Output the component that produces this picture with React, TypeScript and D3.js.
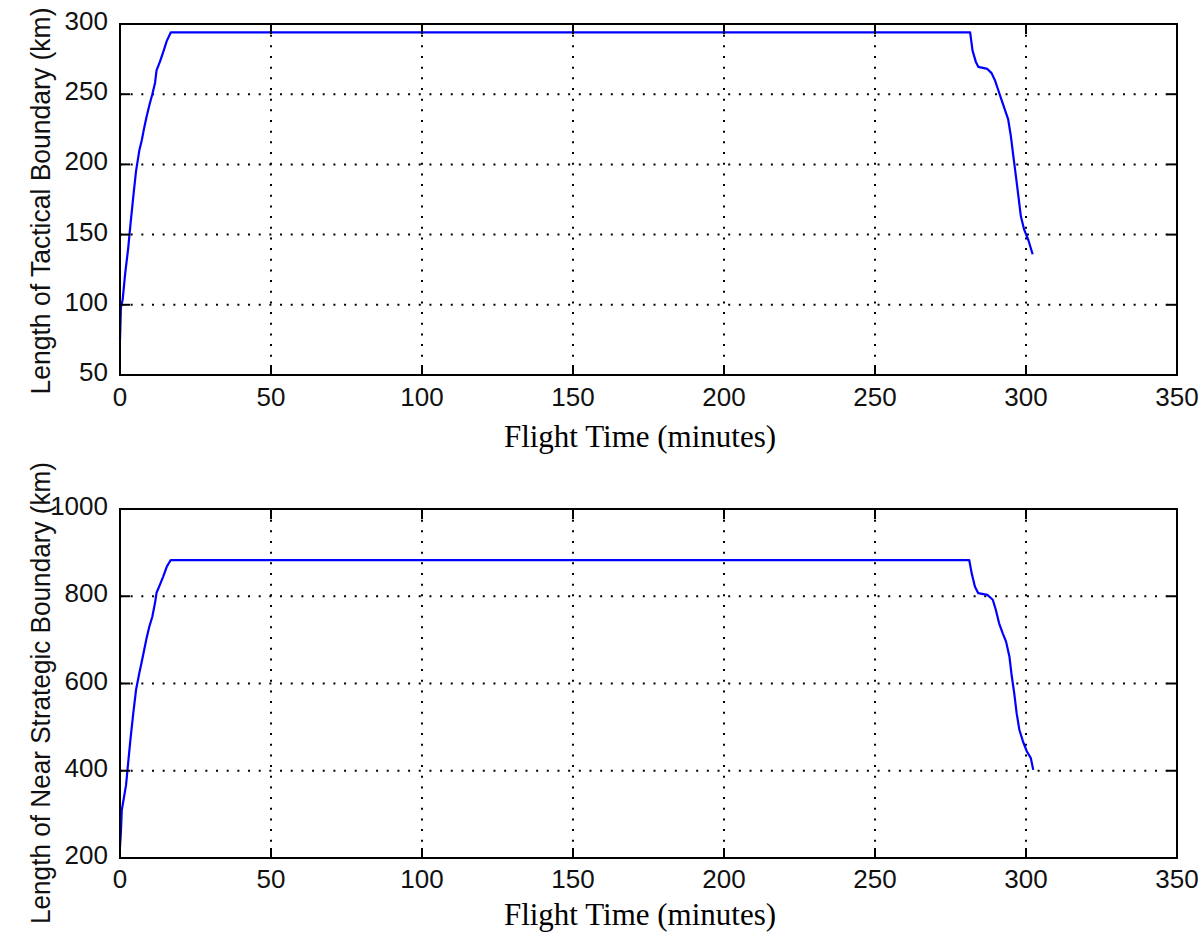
import React from "react";
import * as d3 from "d3";

const xTicks = [0, 50, 100, 150, 200, 250, 300, 350];
const tacticalYTicks = [50, 100, 150, 200, 250, 300];
const strategicYTicks = [200, 400, 600, 800, 1000];

const tacticalTime = [0, 0.3, 0.9, 1.7, 2.7, 3.5, 4.4, 5.3, 6.4, 7.2, 8.0, 8.8, 9.7, 10.7, 11.6, 12.1, 13.2, 14.3, 15.5, 16.8,
  281.5, 282.3, 283.4, 284.2, 287.2, 288.6, 289.7, 290.8, 291.9, 293.0, 294.1, 295.0, 295.8, 296.7, 297.5, 298.3, 299.4, 300.8, 302.2];
const tacticalLength = [75, 98, 104, 122, 140, 158, 177, 195, 210, 217, 226, 234, 242, 250, 258, 267, 273, 280, 288, 294,
  294, 281, 273, 269.5, 268, 265, 260, 253, 246, 239, 232, 220, 206, 191, 177, 163, 153.5, 146, 136];

const strategicTime = [0, 0.3, 0.6, 2.0, 2.7, 3.5, 4.4, 5.3, 6.4, 7.2, 8.0, 8.8, 9.7, 10.7, 11.6, 12.1, 13.2, 14.3, 15.5, 16.8,
  281.2, 282.0, 283.1, 284.2, 287.2, 289.0, 290.0, 291.1, 292.3, 293.4, 294.5, 295.3, 296.1, 296.9, 297.8, 299.0, 300.3, 301.6, 302.4];
const strategicLength = [226, 260, 310, 367, 418, 475, 532, 585, 624, 650, 677, 704, 730, 753, 785, 808, 826, 845, 868, 883,
  883, 853, 822, 807, 803, 792, 769, 738, 715, 696, 662, 616, 578, 532, 494, 467, 444, 429, 402];

const xLabel = "Flight Time (minutes)";
const tacticalYLabel = "Length of Tactical Boundary (km)";
const strategicYLabel = "Length of Near Strategic Boundary (km)";

const LEFT = 120;
const RIGHT = 1177;
const TICK = 10;
const sansFont = "'Liberation Sans', Arial, Helvetica, sans-serif";
const serifFont = "'Liberation Serif', 'Times New Roman', serif";

type PanelProps = {
  top: number;
  bottom: number;
  yDomain: [number, number];
  yTicks: number[];
  times: number[];
  values: number[];
  yLabel: string;
  yLabelCenter: number;
  yLabelLength: number;
  xLabelBaseline: number;
  xTickBaseline: number;
};

function Panel(p: PanelProps) {
  const x = d3.scaleLinear().domain([0, 350]).range([LEFT, RIGHT]);
  const y = d3.scaleLinear().domain(p.yDomain).range([p.bottom, p.top]);
  const pts: [number, number][] = p.times.map((t, i) => [t, p.values[i]]);
  const line = d3.line<[number, number]>().x((d) => x(d[0])).y((d) => y(d[1]));
  const innerX = xTicks.filter((t) => t > 0 && t < 350);
  const innerY = p.yTicks.filter((t) => t > p.yDomain[0] && t < p.yDomain[1]);
  return (
    <g>
      <rect x={LEFT} y={p.top} width={RIGHT - LEFT} height={p.bottom - p.top} fill="#fff" />
      {innerX.map((t) => (
        <line key={"gx" + t} x1={x(t)} x2={x(t)} y1={p.top} y2={p.bottom} stroke="#000" strokeWidth={2} strokeDasharray="2 8.67" />
      ))}
      {innerY.map((t) => (
        <line key={"gy" + t} x1={LEFT} x2={RIGHT} y1={y(t)} y2={y(t)} stroke="#000" strokeWidth={2} strokeDasharray="2 8.67" />
      ))}
      <path d={line(pts) || ""} fill="none" stroke="#0000ff" strokeWidth={2.2} strokeLinejoin="round" />
      {xTicks.map((t) => (
        <g key={"tx" + t}>
          <line x1={x(t)} x2={x(t)} y1={p.bottom} y2={p.bottom - TICK} stroke="#000" strokeWidth={2} />
          <line x1={x(t)} x2={x(t)} y1={p.top} y2={p.top + TICK} stroke="#000" strokeWidth={2} />
          <text x={x(t)} y={p.xTickBaseline} textAnchor="middle" fontFamily={sansFont} fontSize={26} fill="#111">
            {t}
          </text>
        </g>
      ))}
      {p.yTicks.map((t) => (
        <g key={"ty" + t}>
          <line x1={LEFT} x2={LEFT + TICK} y1={y(t)} y2={y(t)} stroke="#000" strokeWidth={2} />
          <line x1={RIGHT} x2={RIGHT - TICK} y1={y(t)} y2={y(t)} stroke="#000" strokeWidth={2} />
          <text x={108} y={y(t) + 6} textAnchor="end" fontFamily={sansFont} fontSize={26} fill="#111">
            {t}
          </text>
        </g>
      ))}
      <rect x={LEFT} y={p.top} width={RIGHT - LEFT} height={p.bottom - p.top} fill="none" stroke="#000" strokeWidth={2} />
      <text
        transform={`translate(50,${p.yLabelCenter}) rotate(-90)`}
        textAnchor="middle"
        fontFamily={sansFont}
        fontSize={27}
        textLength={p.yLabelLength}
        lengthAdjust="spacingAndGlyphs"
        fill="#111"
      >
        {p.yLabel}
      </text>
      <text x={640} y={p.xLabelBaseline} textAnchor="middle" fontFamily={serifFont} fontSize={31} fill="#000">
        {xLabel}
      </text>
    </g>
  );
}

export default function App() {
  return (
    <svg width={1203} height={934} style={{ position: "absolute", left: 0, top: 0, background: "#fff" }}>
      <rect x={0} y={0} width={1203} height={934} fill="#fff" />
      <Panel
        top={24}
        bottom={375}
        yDomain={[50, 300]}
        yTicks={tacticalYTicks}
        times={tacticalTime}
        values={tacticalLength}
        yLabel={tacticalYLabel}
        yLabelCenter={201}
        yLabelLength={387}
        xLabelBaseline={447}
        xTickBaseline={406}
      />
      <Panel
        top={509}
        bottom={858}
        yDomain={[200, 1000]}
        yTicks={strategicYTicks}
        times={strategicTime}
        values={strategicLength}
        yLabel={strategicYLabel}
        yLabelCenter={693}
        yLabelLength={462}
        xLabelBaseline={925}
        xTickBaseline={888}
      />
    </svg>
  );
}
